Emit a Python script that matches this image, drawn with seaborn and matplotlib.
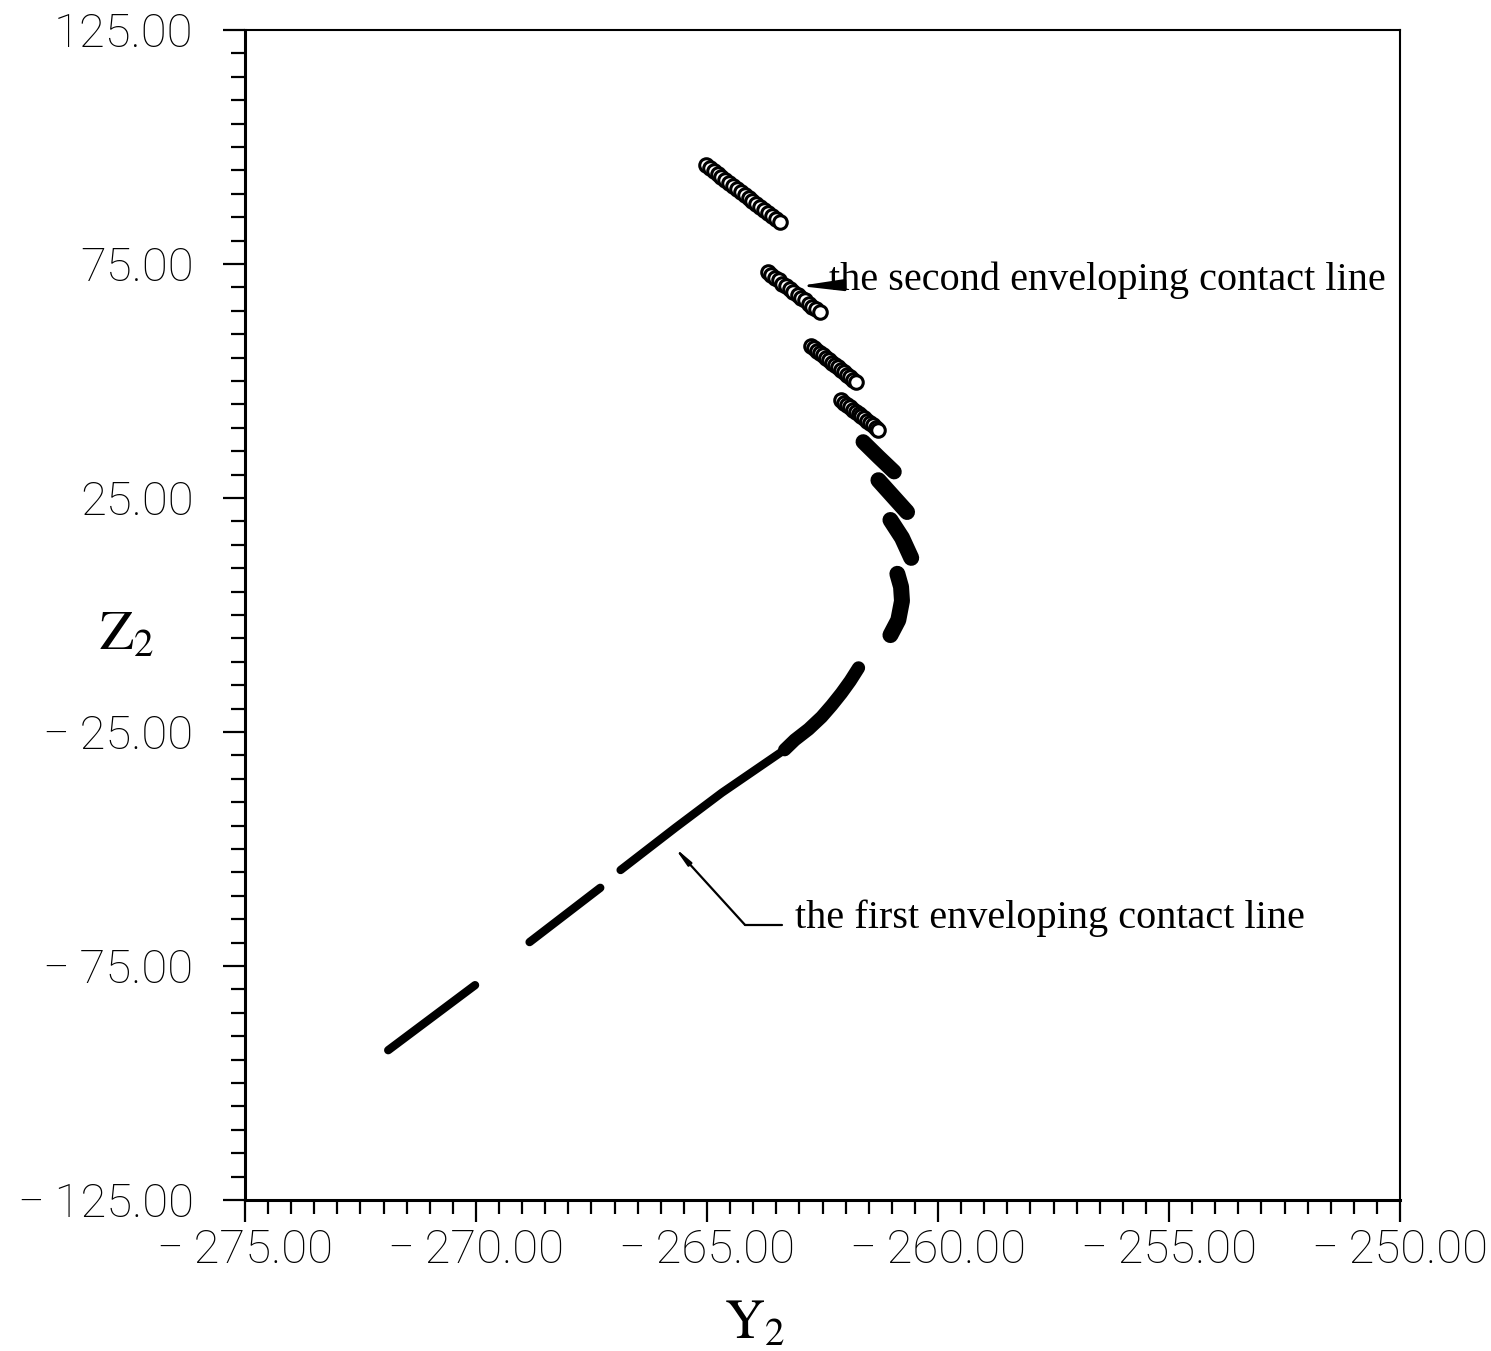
import matplotlib
matplotlib.use("Agg")
import matplotlib.pyplot as plt
import numpy as np
import pandas as pd
import seaborn as sns
from matplotlib.ticker import MultipleLocator, FuncFormatter

# ---------------- data ----------------
# second enveloping contact line: open-circle segments (Y2, Z2)
seg1_y2 = [-265.02, -264.94, -264.85, -264.77, -264.69, -264.60, -264.52, -264.43, -264.35, -264.27,
           -264.18, -264.10, -264.02, -263.93, -263.85, -263.76, -263.68, -263.60, -263.51, -263.43]
seg1_z2 = [96.2, 95.6, 94.9, 94.3, 93.6, 93.0, 92.3, 91.7, 91.1, 90.4,
           89.8, 89.1, 88.5, 87.9, 87.2, 86.6, 85.9, 85.3, 84.6, 84.0]
seg2_y2 = [-263.69, -263.61, -263.53, -263.45, -263.37, -263.29, -263.21, -263.13, -263.04, -262.96,
           -262.88, -262.80, -262.72, -262.64, -262.56]
seg2_z2 = [73.3, 72.7, 72.1, 71.5, 70.8, 70.2, 69.6, 69.0, 68.4, 67.8, 67.2, 66.5, 65.9, 65.3, 64.7]
seg3_y2 = [-262.74, -262.68, -262.61, -262.55, -262.48, -262.42, -262.35, -262.29, -262.22, -262.16,
           -262.09, -262.03, -261.96, -261.90, -261.83, -261.77]
seg3_z2 = [57.5, 57.0, 56.5, 56.0, 55.5, 54.9, 54.4, 53.9, 53.4, 52.9, 52.4, 51.9, 51.3, 50.8, 50.3, 49.8]
seg4_y2 = [-262.09, -262.03, -261.97, -261.91, -261.84, -261.78, -261.72, -261.66, -261.60, -261.54,
           -261.48, -261.41, -261.35, -261.29]
seg4_z2 = [45.9, 45.4, 44.9, 44.4, 43.9, 43.4, 43.0, 42.5, 42.0, 41.5, 41.0, 40.5, 40.0, 39.5]

# dense (solid-looking) segments near the turning region
seg5_y2 = [-261.62, -261.29, -260.95]
seg5_z2 = [37.0, 33.8, 30.6]
seg6_y2 = [-261.29, -260.98, -260.67]
seg6_z2 = [28.8, 25.4, 22.0]
seg7_y2 = [-261.03, -260.78, -260.58]
seg7_z2 = [20.3, 16.5, 12.2]
seg8_y2 = [-260.88, -260.80, -260.78, -260.86, -261.03]
seg8_z2 = [8.8, 6.0, 3.0, -1.1, -4.3]

# first enveloping contact line
seg9_y2 = [-261.72, -261.90, -262.09, -262.30, -262.52, -262.80, -263.10, -263.32]
seg9_z2 = [-11.3, -14.1, -16.7, -19.3, -21.8, -24.4, -26.7, -28.8]
seg10_y2 = [-263.32, -264.68, -265.69, -266.87]
seg10_z2 = [-28.8, -38.0, -45.5, -54.5]
seg11_y2 = [-267.31, -268.84]
seg11_z2 = [-58.3, -69.9]
seg12_y2 = [-270.02, -271.90]
seg12_z2 = [-79.1, -93.0]

x_ticks = [-275, -270, -265, -260, -255, -250]
y_ticks = [-125, -75, -25, 25, 75, 125]

label_second = "the second enveloping contact line"
label_first = "the first enveloping contact line"

# ---------------- build tables ----------------
open_segs = [(seg1_y2, seg1_z2), (seg2_y2, seg2_z2), (seg3_y2, seg3_z2), (seg4_y2, seg4_z2)]
df_open = pd.concat([pd.DataFrame({"Y2": a, "Z2": b, "seg": i}) for i, (a, b) in enumerate(open_segs)],
                    ignore_index=True)

solid_segs = [(seg5_y2, seg5_z2), (seg6_y2, seg6_z2), (seg7_y2, seg7_z2), (seg8_y2, seg8_z2),
              (seg9_y2, seg9_z2), (seg10_y2, seg10_z2), (seg11_y2, seg11_z2), (seg12_y2, seg12_z2)]
solid_widths = [11.0, 11.5, 11.5, 11.5, 9.5, 6.0, 6.0, 6.0]

# ---------------- figure ----------------
sns.set_theme(style="white")
plt.rcParams["font.family"] = ["Liberation Sans", "DejaVu Sans"]
plt.rcParams["mathtext.fontset"] = "stix"
plt.rcParams["text.color"] = "black"
plt.rcParams["xtick.color"] = "black"
plt.rcParams["ytick.color"] = "black"

fig = plt.figure(figsize=(14.91, 13.51), dpi=100)
ax = fig.add_axes([0.1643, 0.1118, 0.7747, 0.8660])

for (a, b), w in zip(solid_segs, solid_widths):
    sns.lineplot(x=a, y=b, sort=False, estimator=None, color="black", linewidth=w,
                 solid_capstyle="round", ax=ax, legend=False)

sns.scatterplot(data=df_open, x="Y2", y="Z2", marker="o", s=95, color="white",
                edgecolor="black", linewidth=2.2, ax=ax, legend=False, zorder=3)

ax.set_xlim(-275, -250)
ax.set_ylim(-125, 125)
ax.set_xticks(x_ticks)
ax.set_yticks(y_ticks)
ax.xaxis.set_minor_locator(MultipleLocator(0.5))
ax.yaxis.set_minor_locator(MultipleLocator(5))


def fmt(v, pos):
    s = f"{abs(v):.2f}"
    return ("\u2212\u2009" + s) if v < 0 else s


ax.xaxis.set_major_formatter(FuncFormatter(fmt))
ax.yaxis.set_major_formatter(FuncFormatter(fmt))

ax.tick_params(axis="both", which="both", direction="out", colors="black", width=1.6,
               top=False, right=False, bottom=True, left=True)
ax.tick_params(axis="both", which="major", length=16, labelsize=34)
ax.tick_params(axis="both", which="minor", length=10)
ax.tick_params(axis="y", which="major", pad=21)
ax.tick_params(axis="x", which="major", pad=4)
for lab in ax.get_xticklabels() + ax.get_yticklabels():
    lab.set_family(["Roboto", "Liberation Sans", "DejaVu Sans"])
    lab.set_fontweight("light")
    lab.set_color("black")

for side in ["left", "bottom"]:
    ax.spines[side].set_linewidth(2.2)
    ax.spines[side].set_color("black")
for side in ["top", "right"]:
    ax.spines[side].set_linewidth(1.5)
    ax.spines[side].set_color("black")

ax.set_xlabel("")
ax.set_ylabel("")
fig.text(127 / 1491, 1 - 636 / 1351, r"$\mathrm{Z_2}$", fontsize=40, ha="center", va="center",
         color="black")
fig.text(755 / 1491, 1 - 1325 / 1351, r"$\mathrm{Y_2}$", fontsize=40, ha="center", va="center",
         color="black")

serif = ["Liberation Serif", "DejaVu Serif"]
arrow_style = "-|>,head_length=0.9,head_width=0.12"
# second line annotation
ax.annotate(label_second, xy=(-263.0, 70.3), xytext=(-262.35, 71.6),
            fontsize=29, family=serif, ha="left", va="center", color="black",
            arrowprops=dict(arrowstyle=arrow_style, color="black",
                            lw=1.8, shrinkA=1, shrinkB=0))
# first line annotation
ax.text(-263.10, -64.7, label_first, fontsize=29, family=serif, ha="left", va="center",
        color="black")
ax.plot([-263.38, -264.18], [-66.2, -66.2], color="black", lw=1.6)
ax.annotate("", xy=(-265.71, -49.6), xytext=(-264.18, -66.2),
            arrowprops=dict(arrowstyle=arrow_style, color="black",
                            lw=1.6, shrinkA=0, shrinkB=0))

fig.savefig("out.png", dpi=100, facecolor="white")
